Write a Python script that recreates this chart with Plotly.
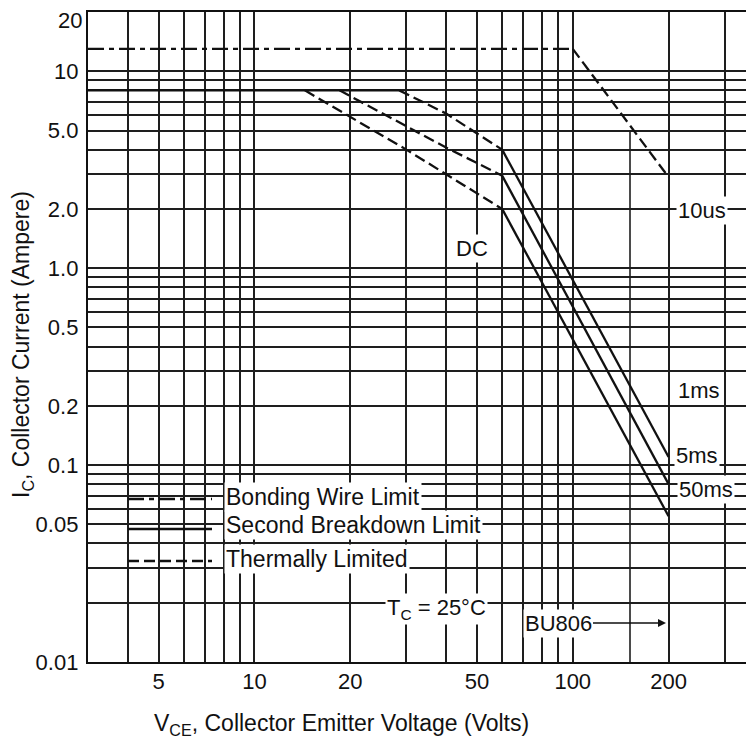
import plotly.graph_objects as go

# ---------------- data ----------------
# labelled ticks
x_tickvals = [5, 10, 20, 50, 100, 200]
x_ticktext = ['5', '10', '20', '50', '100', '200']
# unlabelled grid lines
x_gridvals = [4, 6, 7, 8, 9, 30, 40, 60, 70, 80, 90, 300]
y_tickvals = [0.01, 0.05, 0.1, 0.2, 0.5, 1, 2, 5, 10]
y_ticktext = ['0.01', '0.05', '0.1', '0.2', '0.5', '1.0', '2.0', '5.0', '10']
y_top_label = '20'
y_gridvals = [0.02, 0.03, 0.04, 0.06, 0.07, 0.08, 0.09,
              0.3, 0.4, 0.6, 0.7, 0.8, 0.9,
              3, 4, 6, 7, 8, 9]

# Bonding wire limit (dash-dot) and 10us thermal slope
bond_v = [3, 100]
bond_i = [13, 13]
us10_v = [100, 200]
us10_i = [13, 2.9]
# flat 8 A limit
flat_v = [3, 28.5]
flat_i = [8, 8]
# thermally limited (dashed)
th_a_v = [28.5, 40, 60]
th_a_i = [8, 6.1, 4.0]
th_b_v = [18.5, 40, 60]
th_b_i = [8, 4.1, 2.95]
th_c_v = [14.4, 30, 60]
th_c_i = [8, 4.0, 2.0]
# second breakdown limit (solid)
sb_a_v = [60, 200]
sb_a_i = [4.0, 0.11]
sb_b_v = [60, 200]
sb_b_i = [2.95, 0.08]
sb_c_v = [60, 200]
sb_c_i = [2.0, 0.055]

# ---------------- layout helpers ----------------
# the page body adds an 8 px margin, so the figure is 8 px smaller
OFF = 8
W, H = 754 - OFF, 744 - OFF
L, R, T, B = 88, 754, 12, 662      # plot area in window pixels


def px(x):
    return (x - L) / (R - L)


def py(y):
    return (B - y) / (B - T)


FONT = "Liberation Sans, Arial, sans-serif"
INK = "#111111"
GRID = "#1e1e1e"
GW = 1.6
DASHDOT = "16px,5px,5px,5px"
DASH = "11px,5px"

fig = go.Figure()


def add_line(v, i, dash, name):
    fig.add_trace(go.Scatter(x=v, y=i, mode="lines", name=name, showlegend=False,
                             line=dict(color=INK, width=2.3, dash=dash),
                             hoverinfo="skip"))


add_line(bond_v, bond_i, DASHDOT, "Bonding Wire Limit")
add_line(us10_v, us10_i, DASH, "10us")
add_line(flat_v, flat_i, "solid", "8 A")
add_line(th_a_v, th_a_i, DASH, "Thermal 1")
add_line(th_b_v, th_b_i, DASH, "Thermal 2")
add_line(th_c_v, th_c_i, DASH, "Thermal 3")
add_line(sb_a_v, sb_a_i, "solid", "Second breakdown 1")
add_line(sb_b_v, sb_b_i, "solid", "Second breakdown 2")
add_line(sb_c_v, sb_c_i, "solid", "Second breakdown 3")

shapes = []
# white areas where the printed grid is blank
masks = [
    (123, 415, 474, 613),
    (415, 490, 474, 564),
    (380, 490, 572, 627),
    (520, 587, 537, 643),
    (587, 628, 548, 597),
    (668, 720, 362, 512),
]
for x0, x1, y0, y1 in masks:
    shapes.append(dict(type="rect", xref="paper", yref="paper",
                       x0=px(x0), x1=px(x1), y0=py(y1), y1=py(y0),
                       fillcolor="white", line=dict(width=0), layer="between"))
# partial 150 V grid line
shapes.append(dict(type="line", xref="paper", yref="paper",
                   x0=px(630), x1=px(630), y0=py(662), y1=py(130),
                   line=dict(color=GRID, width=GW), layer="between"))
# legend samples
for yy, dash in [(499, DASHDOT), (529, "solid"), (561, DASH)]:
    shapes.append(dict(type="line", xref="paper", yref="paper",
                       x0=px(128), x1=px(212), y0=py(yy), y1=py(yy),
                       line=dict(color=INK, width=2.3, dash=dash), layer="above"))

annotations = []


def label(text, x, y, xanchor="center", size=23, bg="white"):
    annotations.append(dict(text=text, xref="paper", yref="paper", x=px(x), y=py(y),
                            xanchor=xanchor, yanchor="middle", showarrow=False,
                            font=dict(family=FONT, size=size, color=INK),
                            bgcolor=bg, borderpad=1))


label("Bonding Wire Limit", 224, 497, xanchor="left")
label("Second Breakdown Limit", 224, 525, xanchor="left")
label("Thermally Limited", 224, 559, xanchor="left")
label("DC", 472, 248, size=22)
label("10us", 702, 211, size=22)
label("1ms", 699, 390, size=22)
label("5ms", 697, 455, size=22)
label("50ms", 706, 489, size=22)
label("T<sub>C</sub> = 25°C", 436, 609, size=22)
# top y tick label (sits just below the frame in the reference)
label(y_top_label, 84, 21, xanchor="right", size=22, bg="rgba(0,0,0,0)")
annotations.append(dict(text="BU806", xref="paper", yref="paper", x=px(666), y=py(623),
                        ax=-108, ay=0, showarrow=True, arrowhead=2, arrowsize=1,
                        arrowwidth=1.6, arrowcolor=INK, bgcolor="white", borderpad=1,
                        font=dict(family=FONT, size=22, color=INK)))
# axis titles
annotations.append(dict(text="I<sub>C</sub>, Collector Current (Ampere)", xref="paper",
                        yref="paper", x=px(22), y=py(345), textangle=-90,
                        xanchor="center", yanchor="middle", showarrow=False,
                        font=dict(family=FONT, size=23, color=INK)))
annotations.append(dict(text="V<sub>CE</sub>, Collector Emitter Voltage (Volts)",
                        xref="paper", yref="paper", x=px(341), y=py(724),
                        xanchor="center", yanchor="middle", showarrow=False,
                        font=dict(family=FONT, size=23, color=INK)))

fig.update_layout(
    width=W, height=H,
    margin=dict(l=L - OFF, r=754 - R, t=T - OFF, b=744 - B, pad=0, autoexpand=False),
    paper_bgcolor="white", plot_bgcolor="white",
    font=dict(family=FONT, size=22, color=INK),
    shapes=shapes, annotations=annotations,
    xaxis=dict(type="log", range=[0.4771, 2.5694], tickmode="array",
               tickvals=x_tickvals, ticktext=x_ticktext, showgrid=True,
               gridcolor=GRID, gridwidth=GW, showline=True, linecolor=INK,
               linewidth=2.4, mirror=True, ticks="", ticklabelstandoff=-2,
               zeroline=False, automargin=False,
               minor=dict(tickmode="array", tickvals=x_gridvals, showgrid=True,
                          gridcolor=GRID, gridwidth=GW, ticks="")),
    yaxis=dict(type="log", range=[-2, 1.30103], tickmode="array",
               tickvals=y_tickvals, ticktext=y_ticktext, showgrid=True,
               gridcolor=GRID, gridwidth=GW, showline=True, linecolor=INK,
               linewidth=2.4, mirror=False, ticks="", ticklabelstandoff=3,
               zeroline=False, automargin=False,
               minor=dict(tickmode="array", tickvals=y_gridvals, showgrid=True,
                          gridcolor=GRID, gridwidth=GW, ticks="")),
)

fig.write_html("out.html", config={"displayModeBar": False})
